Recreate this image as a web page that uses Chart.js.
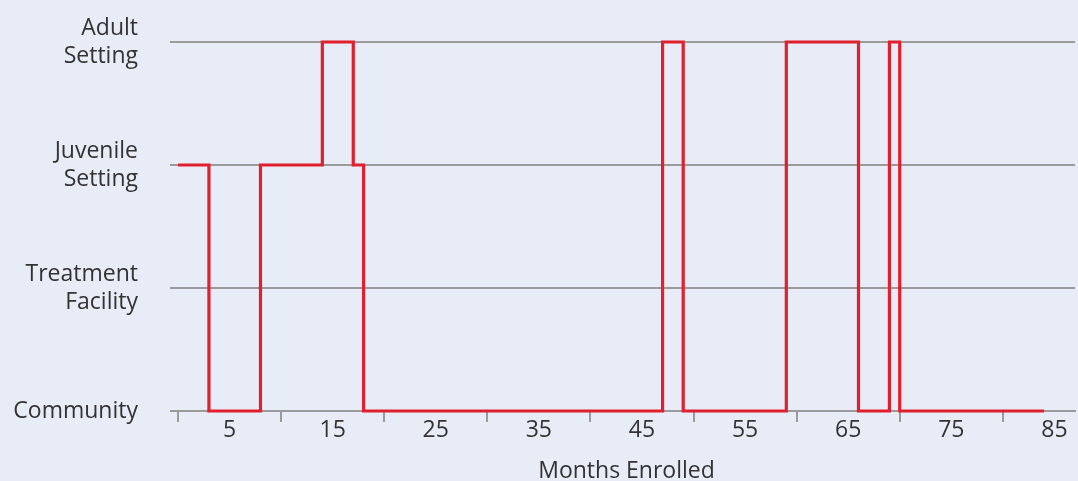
<!DOCTYPE html>
<html>
<head>
<meta charset="utf-8">
<script src="https://cdn.jsdelivr.net/npm/chart.js@4.4.1/dist/chart.umd.min.js"></script>
<style>
  html, body { margin: 0; padding: 0; background: #e8ecf7; }
  #wrap { width: 1078px; height: 481px; position: relative; }
</style>
</head>
<body>
<div id="wrap"><canvas id="chart"></canvas></div>
<script>
/* ---------- Data ---------- */
const months = [
  0, 1, 2, 3, 4, 5, 6, 7, 8, 9, 10, 11, 12, 13, 14, 15, 16, 17, 18, 19,
  20, 21, 22, 23, 24, 25, 26, 27, 28, 29, 30, 31, 32, 33, 34, 35, 36, 37, 38, 39,
  40, 41, 42, 43, 44, 45, 46, 47, 48, 49, 50, 51, 52, 53, 54, 55, 56, 57, 58, 59,
  60, 61, 62, 63, 64, 65, 66, 67, 68, 69, 70, 71, 72, 73, 74, 75, 76, 77, 78, 79,
  80, 81, 82, 83, 84
];
// 0 = Community, 1 = Treatment Facility, 2 = Juvenile Setting, 3 = Adult Setting
const placement = [
  2, 2, 2, 0, 0, 0, 0, 0, 2, 2, 2, 2, 2, 2, 3, 3, 3, 2, 0, 0,
  0, 0, 0, 0, 0, 0, 0, 0, 0, 0, 0, 0, 0, 0, 0, 0, 0, 0, 0, 0,
  0, 0, 0, 0, 0, 0, 0, 3, 3, 0, 0, 0, 0, 0, 0, 0, 0, 0, 0, 3,
  3, 3, 3, 3, 3, 3, 0, 0, 0, 3, 0, 0, 0, 0, 0, 0, 0, 0, 0, 0,
  0, 0, 0, 0, 0
];
const settingLabels = [
  ['Community'],
  ['Treatment', 'Facility'],
  ['Juvenile', 'Setting'],
  ['Adult', 'Setting']
];
const xTitle = 'Months Enrolled';

/* ---------- Style ---------- */
const FONT = "'Open Sans', sans-serif";
const TEXT = '#333333';
const GRID = '#9a9a9a';
const RED = '#e0202e';

const points = months.map((m, i) => ({ x: m, y: placement[i] }));

new Chart(document.getElementById('chart'), {
  type: 'line',
  data: {
    datasets: [{
      data: points,
      stepped: 'before',
      borderColor: RED,
      borderWidth: 3.2,
      pointRadius: 0,
      fill: false,
      clip: 4,
    }],
  },
  options: {
    responsive: true,
    maintainAspectRatio: false,
    animation: false,
    layout: { padding: { top: 42, right: 3, left: 0, bottom: 0 } },
    plugins: { legend: { display: false }, tooltip: { enabled: false } },
    scales: {
      x: {
        type: 'linear',
        min: 0,
        max: 87,
        afterFit(axis) { axis.height = 70; },
        border: { display: true, color: GRID, width: 2 },
        grid: {
          drawOnChartArea: false,
          drawTicks: true,
          tickLength: 11,
          lineWidth: 2,
          color(ctx) {
            return ctx.tick && ctx.tick.value % 10 === 0 ? GRID : 'rgba(0,0,0,0)';
          },
        },
        ticks: {
          stepSize: 5,
          includeBounds: false,
          autoSkip: false,
          maxRotation: 0,
          padding: -5,
          color: TEXT,
          font: { size: 23, family: FONT },
          callback(value) { return value % 10 === 5 ? String(value) : ''; },
        },
        title: {
          display: true,
          text: xTitle,
          color: TEXT,
          font: { size: 23, family: FONT },
          padding: { top: 19, bottom: -4 },
        },
      },
      y: {
        min: 0,
        max: 3,
        afterFit(axis) {
          axis.width = 178;
          // let the two-line top label hang above the plot instead of pushing it down
          axis.paddingTop = 0;
          axis.paddingBottom = 0;
        },
        border: { display: false },
        grid: {
          color: GRID,
          lineWidth: 2,
          drawTicks: true,
          tickLength: 8,
        },
        ticks: {
          stepSize: 1,
          padding: 32,
          color: TEXT,
          font: { size: 23, family: FONT, lineHeight: 1.22 },
          callback(value) { return settingLabels[value] || ''; },
        },
      },
    },
  },
});
</script>
</body>
</html>
